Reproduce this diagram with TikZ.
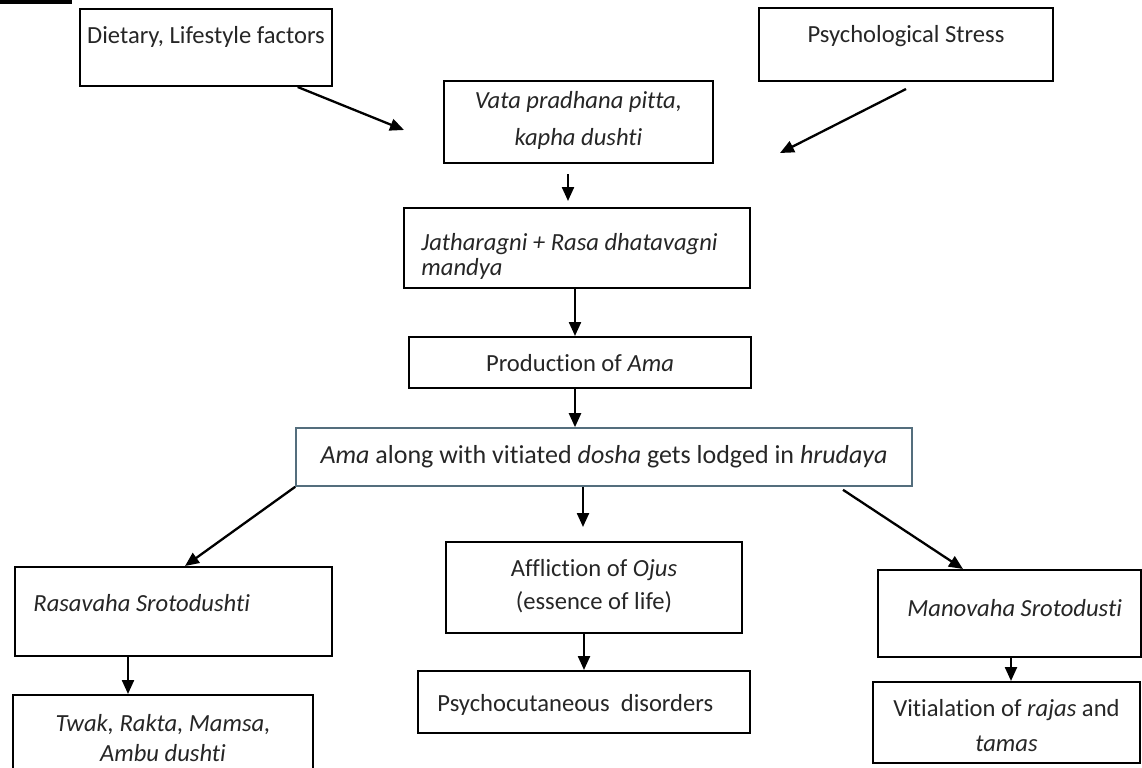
\documentclass[tikz,border=0pt]{standalone}
\usepackage{fontspec}
\setmainfont{Carlito}[Ligatures=CommonOff]
\usetikzlibrary{arrows.meta,calc}
\definecolor{txt}{RGB}{38,38,38}
\definecolor{amaline}{RGB}{84,110,125}
\begin{document}
\begin{tikzpicture}[x=0.5pt,y=-0.5pt,
  box/.style={draw=black,line width=1pt,rectangle,inner sep=0pt},
  lbl/.style={inner sep=0pt,text=txt,font=\fontsize{12.3}{15}\selectfont},
  arr/.style={line width=1.15pt,-{Triangle[length=7pt,width=6pt]}}]
\clip (0,0) rectangle (1142,767);
\fill[white] (0,0) rectangle (1142,767);
\fill[black] (0,0) rectangle (72,4);
% boxes
\node[box,minimum width=126pt,minimum height=38.5pt] (diet) at (206,47.5) {};
\node[box,minimum width=147pt,minimum height=36.5pt] (psych) at (906,44.5) {};
\node[box,minimum width=134.5pt,minimum height=41pt] (vata) at (578.5,122) {};
\node[box,minimum width=173pt,minimum height=40pt] (jath) at (577,248) {};
\node[box,minimum width=171pt,minimum height=25.5pt] (prod) at (580,362.5) {};
\node[box,draw=amaline,line width=0.8pt,minimum width=308pt,minimum height=29pt] (ama) at (604,457) {};
\node[box,minimum width=158.5pt,minimum height=44.5pt] (rasa) at (173.5,611.5) {};
\node[box,minimum width=150pt,minimum height=40pt] (twak) at (163,735) {};
\node[box,minimum width=148pt,minimum height=45.5pt] (affl) at (594,587.5) {};
\node[box,minimum width=166pt,minimum height=31pt] (psycho) at (584,702) {};
\node[box,minimum width=131.5pt,minimum height=43.5pt] (mano) at (1009.5,613.5) {};
\node[box,minimum width=133.5pt,minimum height=40.5pt] (vit) at (1006.5,722.5) {};
% texts
\node[lbl] (diet-t) at (206,37) {Dietary, Lifestyle factors};
\node[lbl] (psych-t) at (906,36) {Psychological Stress};
\node[lbl,align=center,font=\fontsize{12.3}{18.5}\selectfont] (vata-t) at (578.5,120) {\textit{Vata pradhana pitta,}\\\textit{kapha dushti}};
\node[lbl,align=left,anchor=west,font=\fontsize{12.3}{12.5}\selectfont] (jath-t) at (421,256) {\textit{Jatharagni + Rasa dhatavagni}\\\textit{mandya}};
\node[lbl] (prod-t) at (580,363) {Production of \textit{Ama}};
\node[lbl,font=\fontsize{13}{15}\selectfont] (ama-t) at (604,457) {\textit{Ama} along with vitiated \textit{dosha} gets lodged in \textit{hrudaya}};
\node[lbl,anchor=west] (rasa-t) at (33,603) {\textit{Rasavaha Srotodushti}};
\node[lbl,align=center,font=\fontsize{12.3}{15}\selectfont] (twak-t) at (163,738) {\textit{Twak, Rakta, Mamsa,}\\\textit{Ambu dushti}};
\node[lbl,align=center,font=\fontsize{12.3}{16.5}\selectfont] (affl-t) at (594,586) {Affliction of \textit{Ojus}\\(essence of life)};
\node[lbl,anchor=west] (psycho-t) at (437,705) {Psychocutaneous\ \ disorders};
\node[lbl,anchor=west] (mano-t) at (907,608) {\textit{Manovaha Srotodusti}};
\node[lbl,align=center,font=\fontsize{12.3}{17.5}\selectfont] (vit-t) at (1006.5,726) {Vitialation of \textit{rajas} and\\\textit{tamas}};
% free ends
\coordinate (dietend) at (404,130);
\coordinate (psychend) at (780,153);
% connectors
\draw[arr] ($(diet.south west)!0.861!(diet.south east)$) -- (dietend);
\draw[arr] ($(psych.south)+(0,7)$) -- (psychend);
\draw[arr] ($(vata.south)+(-10.5,10)$) -- ($(jath.north)+(-9,-6)$);
\draw[arr] ($(jath.south)+(-2,0)$) -- ($(prod.north)+(-5,0)$);
\draw[arr] ($(prod.south)+(-5,0)$) -- ($(ama.north)+(-29,0)$);
\draw[arr] (ama.south west) -- ($(rasa.north)+(11.5,0)$);
\draw[arr] ($(ama.south)+(-21,0)$) -- ($(affl.north)+(-11,-14)$);
\draw[arr] ($(ama.south)+(239,3)$) -- ($(mano.north)+(-46.5,0)$);
\draw[arr] ($(rasa.south)+(-45.5,0)$) -- ($(twak.north)+(-35,0)$);
\draw[arr] ($(affl.south)+(-10,0)$) -- (psycho.north);
\draw[arr] ($(mano.south)+(1.5,0)$) -- ($(vit.north)+(4.5,0)$);
\end{tikzpicture}
\end{document}
